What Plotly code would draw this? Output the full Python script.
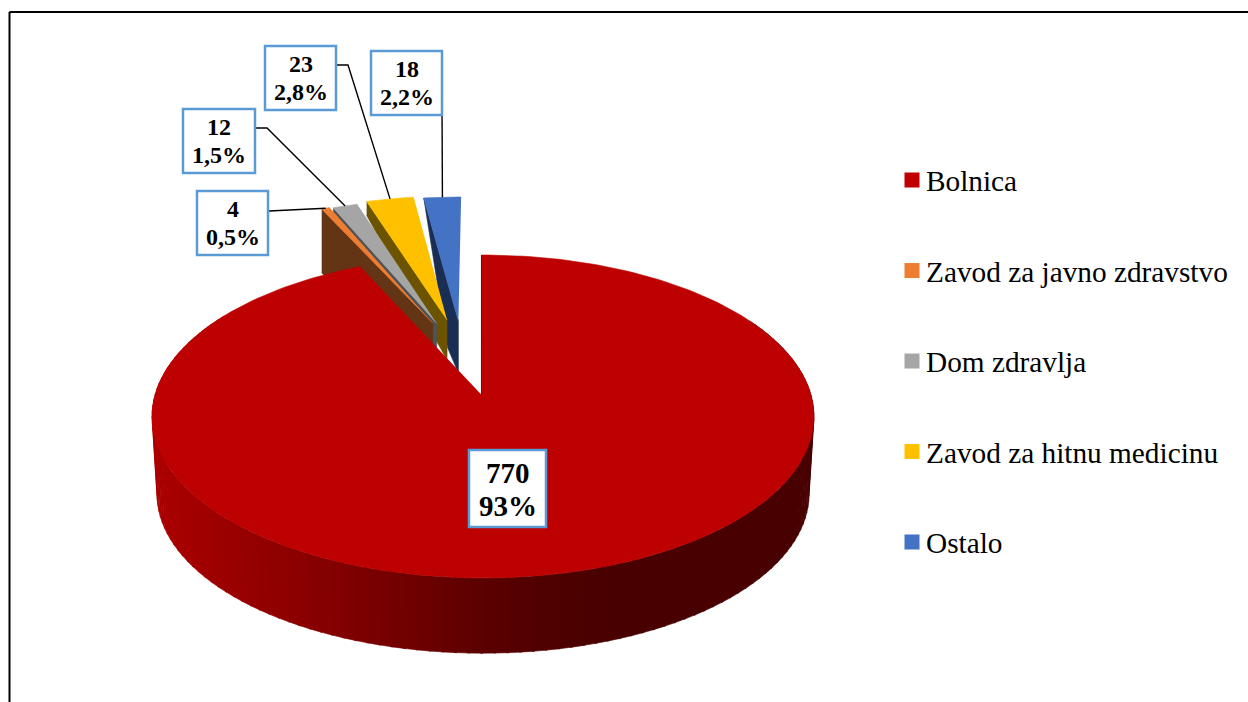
import numpy as np
import plotly.graph_objects as go

categories = ["Bolnica", "Zavod za javno zdravstvo", "Dom zdravlja", "Zavod za hitnu medicinu", "Ostalo"]
values = [770, 4, 12, 23, 18]
percent_labels = ["93%", "0,5%", "1,5%", "2,8%", "2,2%"]
colors = ["#C00000", "#ED7D31", "#A5A5A5", "#FFC000", "#4472C4"]
wall_colors = ["#800000", "#633515", "#4F5357", "#6B5300", "#1A2D52"]

# projection of the pie plane on the page
CX, CY, F, G, K = 483.0, 395.0, 328.0, 158.6, 0.133
BOTTOM_DY, BOTTOM_S = 78.0, 0.985
explode = [(-0.004, 0), (-0.163, 0.482), (-0.150, 0.480), (-0.117, 0.505), (-0.080, 0.497)]
wall_outer = [0, 64, 5, 14, 0]
wall_apex = [0, 45, 50, 40, 52]
wall_bend = [None, None, None, None, (0.686, 65)]
box_rects = [(469, 450, 546, 527), (197, 191, 268, 255), (183, 109, 255, 173), (265, 46, 336, 110), (371, 51, 442, 115)]
side_x = [150, 250, 330, 400, 480, 560, 640, 815]
side_r = [172, 150, 132, 115, 92, 78, 72, 72]


def project(u, v, bottom=False):
    d = 1 + K * v
    if bottom:
        return CX + BOTTOM_S * F * u / d, CY + BOTTOM_DY - BOTTOM_S * G * v / d
    return CX + F * u / d, CY - G * v / d


total = sum(values)
cum = np.cumsum([0] + values) / total * 360
fig = go.Figure()


def poly(x, y, color, name=None):
    fig.add_trace(go.Scatter(x=list(x), y=list(y), mode="lines", fill="toself", fillcolor=color,
                             line=dict(color=color, width=0.6), showlegend=False, hoverinfo="skip",
                             name=name))


def arc(a0, a1, off, n=12):
    t = np.radians(np.linspace(a0, a1, n))
    return np.sin(t) + off[0], np.cos(t) + off[1]


# exploded slices, back to front
for i in [4, 3, 2, 1]:
    off = explode[i]
    u, v = arc(cum[i], cum[i + 1], off)
    ax, ay = project(off[0], off[1])
    ox, oy = project(u[0], v[0])
    wx = [ox, ax, ax, ox]
    wy = [oy, ay, ay + wall_apex[i], oy + wall_outer[i]]
    if wall_bend[i]:
        f, drop = wall_bend[i]
        wx.insert(3, ox + f * (ax - ox))
        wy.insert(3, oy + f * (ay - oy) + drop)
    poly(wx, wy, wall_colors[i])
    px, py = project(u, v)
    poly(np.r_[ax, px], np.r_[ay, py], colors[i], categories[i])

# side of the big slice
steps = np.arange(60, 302, 2.0)
for a in steps:
    u, v = arc(a, a + 2.4, (0, 0), 3)
    tx, ty = project(u, v)
    bx, by = project(u, v, True)
    r = int(np.interp(tx.mean(), side_x, side_r))
    poly(np.r_[tx, bx[::-1]], np.r_[ty, by[::-1]], f"rgb({r},0,0)")

# top of the big slice
u, v = arc(cum[0] - 0.25, cum[1], (0, 0), 240)
px, py = project(u, v)
ax, ay = project(*explode[0])
fig.add_trace(go.Scatter(x=[ax, ax], y=[ay, py[0]], mode="lines", line=dict(color="#400000", width=1.5),
                         showlegend=False, hoverinfo="skip"))
poly(np.r_[ax, px], np.r_[ay, py], "#BD0000", categories[0])

# legend entries
for name, c in zip(categories, colors):
    fig.add_trace(go.Scatter(x=[None], y=[None], mode="markers", name=name, legendgroup=name,
                             marker=dict(symbol="square", size=15, color=c)))

shapes = [dict(type="line", x0=9.5, x1=1248, y0=12, y1=12, line=dict(color="black", width=2)),
          dict(type="line", x0=9.5, x1=9.5, y0=12, y1=702, line=dict(color="black", width=2))]

# leader lines
mids = [(cum[i] + cum[i + 1]) / 2 for i in range(5)]
elbows = [None, [(269, 211)], [(256, 128), (267, 128)], [(337, 65), (348, 65)], [(442, 102)]]
for i in range(1, 5):
    mx, my = project(np.sin(np.radians(mids[i])) + explode[i][0], np.cos(np.radians(mids[i])) + explode[i][1])
    pts = elbows[i] + [(float(mx), float(my))]
    fig.add_trace(go.Scatter(x=[p[0] for p in pts], y=[p[1] for p in pts], mode="lines",
                             line=dict(color="black", width=1.4), showlegend=False, hoverinfo="skip"))

annotations = []
for i, (x0, y0, x1, y1) in enumerate(box_rects):
    shapes.append(dict(type="rect", x0=x0, y0=y0, x1=x1, y1=y1, fillcolor="white",
                       line=dict(color="#5B9BD5", width=2.5), layer="above"))
    big = i == 0
    yc = (y0 + y1) / 2
    font = dict(family="Liberation Serif", size=29 if big else 24, color="black")
    for txt, dy in ((values[i], -16 if big else -14), (percent_labels[i], 17.5 if big else 13.5)):
        annotations.append(dict(x=(x0 + x1) / 2, y=yc + dy, xref="x", yref="y", showarrow=False,
                                text=f"<b>{txt}</b>", align="center", font=font))

fig.update_layout(
    width=1248, height=702, margin=dict(l=0, r=0, t=0, b=0),
    paper_bgcolor="white", plot_bgcolor="white",
    xaxis=dict(range=[0, 1248], visible=False, fixedrange=True),
    yaxis=dict(range=[702, 0], visible=False, fixedrange=True),
    shapes=shapes, annotations=annotations, showlegend=True,
    legend=dict(x=886 / 1248, y=1 - 154.5 / 702, xanchor="left", yanchor="top", tracegroupgap=49.4,
                font=dict(family="Liberation Serif", size=29.3, color="black"), bgcolor="rgba(0,0,0,0)"),
)
post = """document.body.style.margin='0';document.documentElement.style.overflow='hidden';
var gd=document.getElementById('{plot_id}');
function nudge(){document.querySelectorAll('.legendpoints').forEach(function(g){g.setAttribute('transform','translate(6,0)');});}
nudge();gd.on('plotly_afterplot',nudge);"""
fig.write_html("out.html", config=dict(displayModeBar=False), post_script=post)
